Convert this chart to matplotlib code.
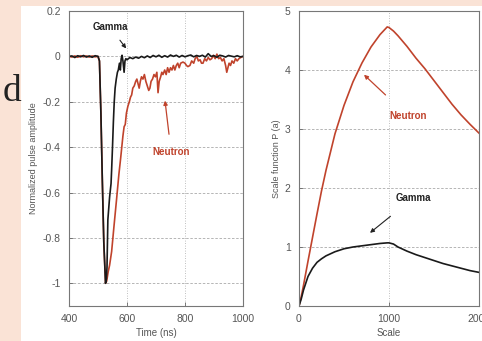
import matplotlib
matplotlib.use('Agg')
import matplotlib.pyplot as plt
from matplotlib.patches import Rectangle

# left panel: normalized pulses
t_gamma = [400, 410, 420, 430, 440, 450, 460, 470, 480, 490, 500, 505, 510, 515, 520, 526, 529,
           531, 534, 540, 545, 547, 550, 553, 556, 559, 563, 567, 570, 574, 577, 580, 583, 586,
           590, 593, 596, 600, 610, 620, 630, 640, 650, 660, 670, 680, 690, 700, 710, 720, 730,
           740, 750, 760, 770, 780, 790, 800, 810, 820, 830, 840, 850, 860, 870, 880, 890, 900,
           910, 920, 930, 940, 950, 960, 970, 980, 990, 1000]
a_gamma = [0, 0.002, -0.005, 0.003, -0.002, 0.004, -0.003, 0.002, -0.004, 0.003, 0, -0.02, -0.25,
           -0.55, -0.82, -1.0, -0.98, -0.93, -0.72, -0.62, -0.56, -0.5, -0.4, -0.29, -0.2, -0.14,
           -0.1, -0.07, -0.06, -0.03, -0.06, -0.01, 0.005, -0.02, -0.07, -0.02, -0.01, -0.015,
           -0.005, -0.01, -0.003, -0.008, 0, -0.006, 0.002, -0.005, 0.004, -0.002, 0.005, -0.004,
           0.003, -0.003, 0.006, 0, 0.005, -0.003, 0.004, -0.002, 0.003, 0.006, -0.002, 0.004, 0,
           0.005, -0.003, 0.012, 0, 0.003, -0.004, 0.005, 0.002, -0.003, 0.004, 0.001, -0.002,
           0.003, -0.002, 0]

t_neutron = [400, 410, 420, 430, 440, 450, 460, 470, 480, 490, 500, 505, 510, 515, 520, 526, 530,
             535, 540, 547, 555, 564, 572, 578, 582, 586, 590, 594, 598, 603, 608, 612, 616, 620,
             625, 630, 634, 638, 642, 646, 650, 655, 660, 665, 670, 675, 679, 683, 688, 693, 698,
             703, 707, 711, 716, 720, 724, 730, 735, 740, 745, 750, 755, 760, 765, 770, 775, 780,
             785, 793, 800, 805, 810, 817, 823, 830, 835, 841, 846, 852, 857, 862, 868, 874, 880,
             886, 892, 898, 904, 910, 916, 922, 928, 934, 940, 944, 948, 952, 957, 962, 968, 974,
             980, 986, 992, 1000]
a_neutron = [0, -0.003, 0.002, -0.004, 0.003, -0.002, 0.002, -0.003, 0.002, -0.002, 0, -0.02,
             -0.25, -0.55, -0.82, -1.0, -0.99, -0.95, -0.92, -0.86, -0.75, -0.63, -0.52, -0.45,
             -0.4, -0.35, -0.31, -0.3, -0.25, -0.22, -0.2, -0.18, -0.17, -0.14, -0.13, -0.11,
             -0.1, -0.12, -0.14, -0.11, -0.09, -0.1, -0.08, -0.11, -0.13, -0.15, -0.14, -0.11,
             -0.1, -0.08, -0.09, -0.07, -0.16, -0.11, -0.09, -0.07, -0.08, -0.06, -0.08, -0.05,
             -0.07, -0.05, -0.06, -0.04, -0.06, -0.04, -0.03, -0.05, -0.03, -0.025, -0.03, -0.04,
             -0.045, -0.04, -0.02, -0.03, -0.01, 0, -0.02, -0.015, -0.03, -0.03, -0.01, -0.02,
             -0.005, -0.015, -0.01, 0.005, -0.01, 0.01, -0.01, -0.005, -0.02, -0.01, -0.04, -0.07,
             -0.05, -0.03, -0.04, -0.02, -0.03, -0.01, -0.02, -0.01, -0.005, 0]

# right panel: scale function
scale = [0, 25, 50, 100, 150, 200, 250, 300, 400, 500, 600, 700, 800, 900, 980, 1000, 1050,
         1100, 1200, 1300, 1400, 1500, 1600, 1700, 1800, 1900, 2000]
p_neutron = [0, 0.16, 0.35, 0.76, 1.16, 1.56, 1.95, 2.3, 2.92, 3.4, 3.8, 4.12, 4.39, 4.6, 4.73,
             4.72, 4.66, 4.58, 4.4, 4.2, 4.02, 3.82, 3.62, 3.42, 3.24, 3.08, 2.93]
p_gamma = [0, 0.12, 0.27, 0.5, 0.64, 0.74, 0.8, 0.85, 0.92, 0.97, 1.0, 1.02, 1.04, 1.06, 1.07,
           1.07, 1.05, 1.0, 0.93, 0.87, 0.82, 0.77, 0.72, 0.68, 0.64, 0.6, 0.57]

red = '#c0432c'
blk = '#1a1a1a'
grey = '#555555'
plt.rcParams['font.family'] = ['Liberation Sans', 'DejaVu Sans']

fig = plt.figure(figsize=(4.82, 3.41), dpi=100)
fig.patch.set_facecolor('#fae3d6')
fig.patches.append(Rectangle((21 / 482, 0), 1, 335 / 341, transform=fig.transFigure,
                             facecolor='white', edgecolor='none', zorder=-10))
fig.text(3 / 482, 1 - 92 / 341, 'd', family='Liberation Serif', fontsize=27,
         color='#222222', va='center', ha='left', zorder=-5)


def style(ax):
    ax.set_facecolor('white')
    ax.tick_params(direction='in', length=3, width=0.6, colors='#666666',
                   labelcolor=grey, labelsize=7.5, pad=6)
    for s in ax.spines.values():
        s.set_color('#777777')
        s.set_linewidth(0.8)
    ax.grid(True, axis='y', color='#aaaaaa', linestyle=(0, (3, 2)), linewidth=0.6)
    ax.grid(True, axis='x', color='#aaaaaa', linestyle=(0, (1, 2)), linewidth=0.6)
    ax.set_axisbelow(True)


ax1 = fig.add_axes([69 / 482, 35 / 341, 174 / 482, 295 / 341])
style(ax1)
ax1.plot(t_neutron, a_neutron, color=red, lw=1.2)
ax1.plot(t_gamma, a_gamma, color=blk, lw=1.2)
ax1.set_xlim(400, 1000)
ax1.set_ylim(-1.1, 0.2)
ax1.set_xticks([400, 600, 800, 1000])
ax1.set_yticks([-1, -0.8, -0.6, -0.4, -0.2, 0, 0.2])
ax1.set_yticklabels(['-1', '-0.8', '-0.6', '-0.4', '-0.2', '0', '0.2'])
ax1.set_xlabel('Time (ns)', fontsize=7, color=grey, labelpad=3)
ax1.set_ylabel('Normalized pulse amplitude', fontsize=6.5, color=grey, labelpad=3)
ax1.annotate('Gamma', xy=(597, 0.035), xytext=(541, 0.13), fontsize=7, fontweight='bold',
             color='#222222', ha='center', va='center',
             arrowprops=dict(arrowstyle='-|>', color='#222222', lw=0.8, mutation_scale=6,
                             shrinkA=5, shrinkB=0))
ax1.annotate('Neutron', xy=(731, -0.195), xytext=(752, -0.42), fontsize=7, fontweight='bold',
             color=red, ha='center', va='center',
             arrowprops=dict(arrowstyle='-|>', color=red, lw=0.9, mutation_scale=6,
                             shrinkA=7, shrinkB=0))

ax2 = fig.add_axes([299 / 482, 35 / 341, 180 / 482, 295 / 341])
style(ax2)
ax2.plot(scale, p_neutron, color=red, lw=1.2)
ax2.plot(scale, p_gamma, color=blk, lw=1.2)
ax2.set_xlim(0, 2000)
ax2.set_ylim(0, 5)
ax2.set_xticks([0, 1000, 2000])
ax2.set_yticks([0, 1, 2, 3, 4, 5])
ax2.set_xlabel('Scale', fontsize=7, color=grey, labelpad=3)
ax2.set_ylabel('Scale function P (a)', fontsize=6.5, color=grey, labelpad=3)
ax2.annotate('Neutron', xy=(722, 3.92), xytext=(1211, 3.22), fontsize=7, fontweight='bold',
             color=red, ha='center', va='center',
             arrowprops=dict(arrowstyle='-|>', color=red, lw=0.9, mutation_scale=6,
                             shrinkA=14, shrinkB=0))
ax2.annotate('Gamma', xy=(789, 1.24), xytext=(1267, 1.83), fontsize=7, fontweight='bold',
             color='#222222', ha='center', va='center',
             arrowprops=dict(arrowstyle='-|>', color='#222222', lw=0.8, mutation_scale=6,
                             shrinkA=12, shrinkB=0))

fig.savefig('out.png', dpi=100, facecolor=fig.get_facecolor())
